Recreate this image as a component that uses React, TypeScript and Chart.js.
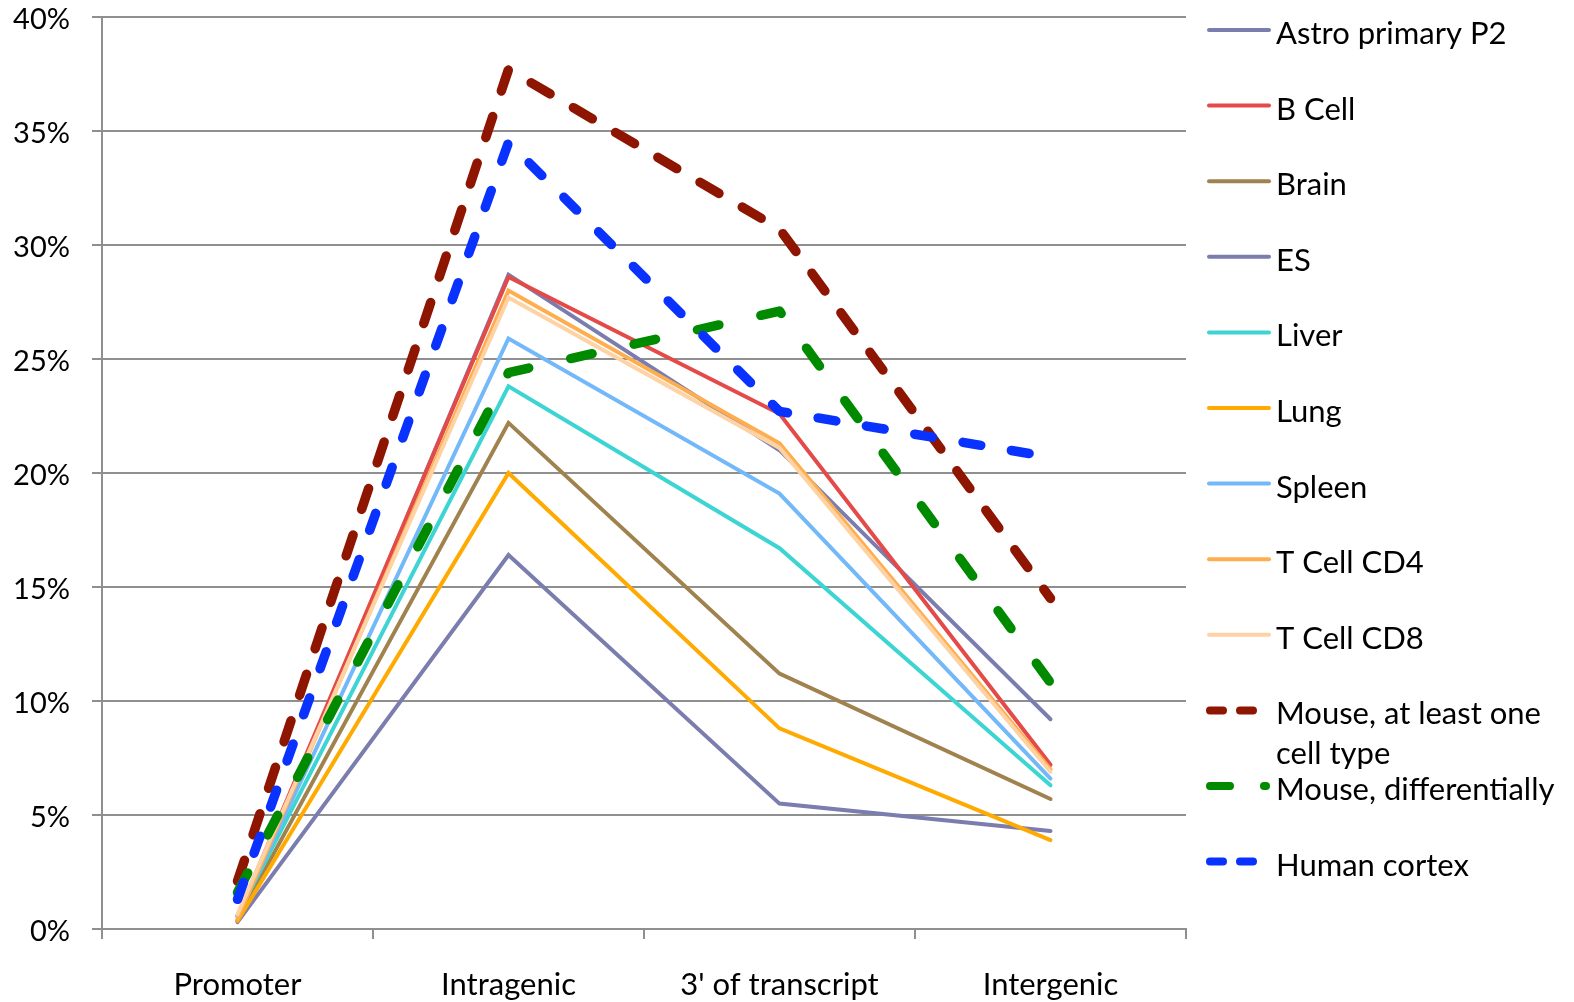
import React, { useEffect, useRef } from "react";
import { Chart, registerables } from "chart.js";

Chart.register(...registerables);

// Genomic region categories along the x axis
const categories = ["Promoter", "Intragenic", "3' of transcript", "Intergenic"];

// Share of sites per region (%), one array per sample
const astroPrimaryP2 = [0.35, 28.7, 21.0, 9.2];
const bCell = [0.55, 28.6, 22.6, 7.2];
const brain = [0.4, 22.2, 11.2, 5.7];
const es = [0.3, 16.4, 5.5, 4.3];
const liver = [0.6, 23.8, 16.7, 6.3];
const lung = [0.35, 20.0, 8.8, 3.9];
const spleen = [0.55, 25.9, 19.1, 6.6];
const tCellCd4 = [0.45, 28.0, 21.3, 7.0];
const tCellCd8 = [0.65, 27.7, 21.1, 6.9];
const mouseAtLeastOne = [2.1, 37.7, 30.7, 14.5];
const mouseDifferentially = [1.6, 24.4, 27.1, 10.8];
const humanCortex = [1.3, 34.5, 22.7, 20.7];

// Y axis range and step (%)
const yMin = 0;
const yMax = 40;
const yStep = 5;

type SeriesDef = {
  label: string[];
  data: number[];
  color: string;
  dashed: boolean;
  dash: number[];
  legendDash: number[];
};

const series: SeriesDef[] = [
  { label: ["Astro primary P2"], data: astroPrimaryP2, color: "#7a7dae", dashed: false, dash: [], legendDash: [] },
  { label: ["B Cell"], data: bCell, color: "#e44a48", dashed: false, dash: [], legendDash: [] },
  { label: ["Brain"], data: brain, color: "#a0824f", dashed: false, dash: [], legendDash: [] },
  { label: ["ES"], data: es, color: "#7a7dae", dashed: false, dash: [], legendDash: [] },
  { label: ["Liver"], data: liver, color: "#3dd4d4", dashed: false, dash: [], legendDash: [] },
  { label: ["Lung"], data: lung, color: "#ffaa00", dashed: false, dash: [], legendDash: [] },
  { label: ["Spleen"], data: spleen, color: "#73b8f8", dashed: false, dash: [], legendDash: [] },
  { label: ["T Cell CD4"], data: tCellCd4, color: "#ffae4f", dashed: false, dash: [], legendDash: [] },
  { label: ["T Cell CD8"], data: tCellCd8, color: "#ffd2a4", dashed: false, dash: [], legendDash: [] },
  { label: ["Mouse, at least one", "cell type"], data: mouseAtLeastOne, color: "#8e1500", dashed: true, dash: [22, 27], legendDash: [13, 17] },
  { label: ["Mouse, differentially"], data: mouseDifferentially, color: "#008a00", dashed: true, dash: [22, 43], legendDash: [20, 34] },
  { label: ["Human cortex"], data: humanCortex, color: "#0a32ff", dashed: true, dash: [18, 31], legendDash: [13, 17] },
];

const FONT = "Lato";
const Y_FONT_SIZE = 29;
const X_FONT_SIZE = 31;
const LEGEND_FONT_SIZE = 31;
const GRID = "#8f8f8f";

// Legend drawn in the right-hand margin
const legendPlugin = {
  id: "sideLegend",
  afterDraw(chart: any) {
    const ctx = chart.ctx as CanvasRenderingContext2D;
    const x0 = chart.chartArea.right + 23;
    const x1 = x0 + 60;
    const textX = x1 + 7;
    const top = 30;
    const step = 75.6;
    ctx.save();
    ctx.font = `${LEGEND_FONT_SIZE}px ${FONT}`;
    ctx.fillStyle = "#000";
    ctx.textAlign = "left";
    ctx.textBaseline = "middle";
    series.forEach((s, i) => {
      const y = top + i * step;
      ctx.beginPath();
      ctx.strokeStyle = s.color;
      ctx.lineCap = "round";
      ctx.lineWidth = s.dashed ? 8 : 4;
      ctx.setLineDash(s.legendDash);
      ctx.moveTo(x0 + (s.dashed ? 1 : 0), y);
      ctx.lineTo(x1 - (s.dashed ? 3 : 0), y);
      ctx.stroke();
      ctx.setLineDash([]);
      s.label.forEach((line, j) => {
        ctx.fillText(line, textX, y + 4 + j * 40);
      });
    });
    ctx.restore();
  },
};

export default function App() {
  const ref = useRef<HTMLCanvasElement | null>(null);

  useEffect(() => {
    if (!ref.current) return;
    const n = series.length;
    const chart = new Chart(ref.current, {
      type: "line",
      data: {
        labels: categories,
        datasets: series.map((s, i) => ({
          label: s.label.join(" "),
          data: s.data,
          borderColor: s.color,
          backgroundColor: s.color,
          borderWidth: s.dashed ? 9.5 : 4,
          borderDash: s.dash,
          borderCapStyle: "round" as const,
          borderJoinStyle: (s.dashed ? "round" : "miter") as any,
          pointRadius: 0,
          pointHoverRadius: 0,
          tension: 0,
          fill: false,
          order: n - i,
        })),
      },
      options: {
        responsive: false,
        animation: false,
        devicePixelRatio: 1,
        layout: { padding: { top: 17, right: 388, left: 0, bottom: 0 } },
        plugins: {
          legend: { display: false },
          tooltip: { enabled: false },
        },
        scales: {
          x: {
            offset: true,
            afterFit: (scale: any) => {
              scale.height = 73;
              scale.paddingLeft = 0;
              scale.paddingRight = 0;
              scale.paddingTop = 0;
              scale.paddingBottom = 0;
            },
            grid: {
              offset: true,
              drawOnChartArea: false,
              drawTicks: true,
              tickLength: 10,
              color: GRID,
              lineWidth: 2,
            },
            border: { display: true, color: GRID, width: 2 },
            ticks: {
              padding: 27,
              color: "#000",
              font: { family: FONT, size: X_FONT_SIZE },
              maxRotation: 0,
            },
          },
          y: {
            min: yMin,
            max: yMax,
            afterFit: (scale: any) => {
              scale.width = 102;
              scale.paddingLeft = 0;
              scale.paddingRight = 0;
              scale.paddingTop = 0;
              scale.paddingBottom = 0;
            },
            grid: {
              color: GRID,
              lineWidth: 2,
              drawTicks: true,
              tickLength: 10,
            },
            border: { display: true, color: GRID, width: 2 },
            ticks: {
              stepSize: yStep,
              padding: 22,
              labelOffset: 3,
              color: "#000",
              font: { family: FONT, size: Y_FONT_SIZE },
              callback: (v: any) => `${v}%`,
            },
          },
        },
      },
      plugins: [legendPlugin],
    });
    return () => chart.destroy();
  }, []);

  return (
    <div
      style={{
        position: "fixed",
        left: 0,
        top: 0,
        width: 1574,
        height: 1002,
        background: "#fff",
      }}
    >
      <canvas ref={ref} width={1574} height={1002} style={{ display: "block" }} />
    </div>
  );
}
